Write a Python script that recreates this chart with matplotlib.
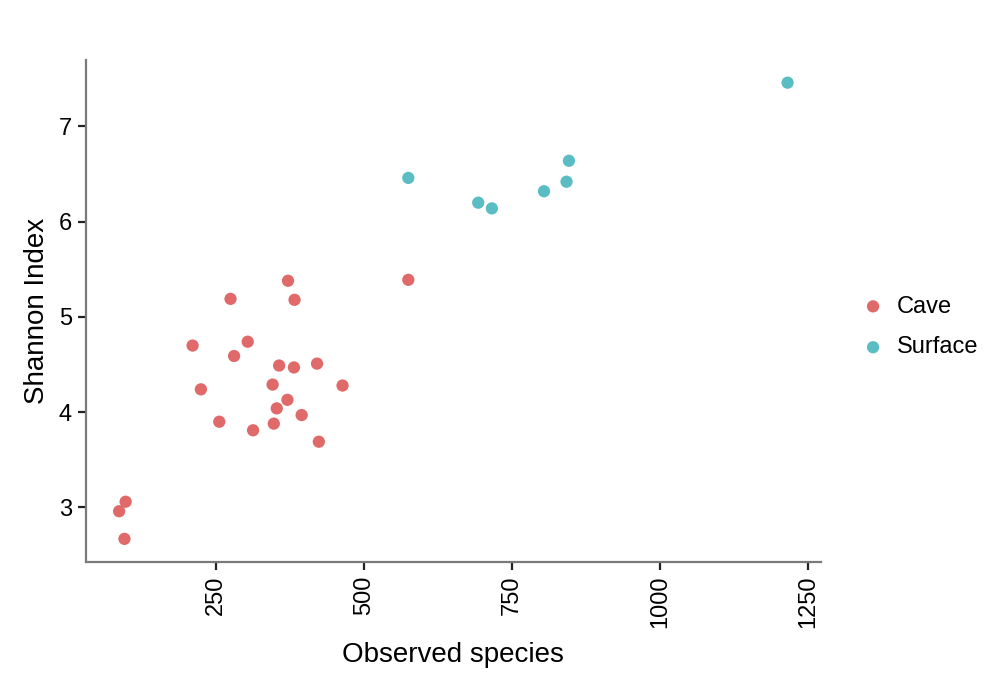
import matplotlib
matplotlib.use("Agg")
import matplotlib.pyplot as plt
import numpy as np

# --- data ---
cave_obs = [372, 575, 275, 383, 211, 304, 281, 357, 382, 421, 225, 346, 464,
            371, 353, 395, 256, 348, 313, 424, 98, 87, 96]
cave_shannon = [5.38, 5.39, 5.19, 5.18, 4.70, 4.74, 4.59, 4.49, 4.47, 4.51, 4.24,
                4.29, 4.28, 4.13, 4.04, 3.97, 3.90, 3.88, 3.81, 3.69, 3.06, 2.96, 2.67]

surface_obs = [575, 693, 716, 804, 842, 846, 1215]
surface_shannon = [6.46, 6.20, 6.14, 6.32, 6.42, 6.64, 7.46]

groups = ["Cave", "Surface"]
group_colors = {"Cave": "#E0696A", "Surface": "#5BBDC4"}

x_ticks = [250, 500, 750, 1000, 1250]
y_ticks = [3, 4, 5, 6, 7]

plt.rcParams['font.family'] = ['Liberation Sans', 'DejaVu Sans']

fig = plt.figure(figsize=(10.07, 6.75), dpi=100)
ax = fig.add_axes([0.0851, 0.1679, 0.7302, 0.7434])

ax.scatter(cave_obs, cave_shannon, s=78, color=group_colors["Cave"],
           edgecolors='none', label="Cave", zorder=3)
ax.scatter(surface_obs, surface_shannon, s=78, color=group_colors["Surface"],
           edgecolors='none', label="Surface", zorder=3)

# ggplot-style 5% expansion
all_x = cave_obs + surface_obs
all_y = cave_shannon + surface_shannon
dx = (max(all_x) - min(all_x)) * 0.05
dy = (max(all_y) - min(all_y)) * 0.05
ax.set_xlim(min(all_x) - dx, max(all_x) + dx)
ax.set_ylim(min(all_y) - dy, max(all_y) + dy)

ax.set_xticks(x_ticks)
ax.set_yticks(y_ticks)
ax.set_xticklabels([str(t) for t in x_ticks], rotation=90, va='top')

for side in ['top', 'right']:
    ax.spines[side].set_visible(False)
for side in ['left', 'bottom']:
    ax.spines[side].set_color('#7a7a7a')
    ax.spines[side].set_linewidth(1.6)

ax.tick_params(axis='both', length=6, width=1.6, color='#222222',
               labelsize=17, labelcolor='black', pad=4)

ax.set_xlabel("Observed species", fontsize=20, labelpad=10)
ax.set_ylabel("Shannon Index", fontsize=20, labelpad=6)

fig.legend(loc='center left', bbox_to_anchor=(840 / 1007, 1 - 327 / 675),
           frameon=False, fontsize=17, handletextpad=0.5, labelspacing=0.8,
           markerscale=1.0, handlelength=1.0)

fig.savefig("out.png", dpi=100, facecolor='white')
